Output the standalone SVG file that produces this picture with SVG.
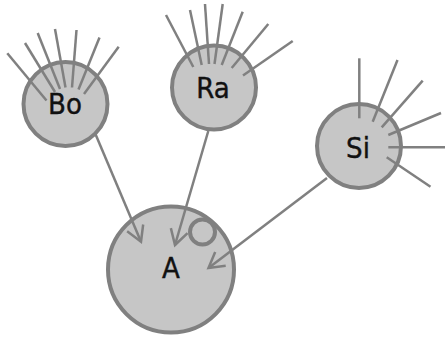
<svg xmlns="http://www.w3.org/2000/svg" width="445" height="338" viewBox="0 0 445 338">
<style>
.node circle{fill:#c6c6c6;stroke:#808080;stroke-width:4}
.hair{stroke:#808080;stroke-width:2.5;fill:none}
.label{font-family:"DejaVu Sans Condensed","DejaVu Sans",sans-serif;font-stretch:condensed;font-size:29px;fill:#111;stroke:#111;stroke-width:0.4;text-anchor:middle}
.edge{stroke:#808080;stroke-width:2.5;fill:none}
</style>
<defs>
<marker id="arrow" markerUnits="userSpaceOnUse" viewBox="-20 -12 24 24" markerWidth="24" markerHeight="24" refX="0" refY="0" orient="auto">
<path d="M-15,-8.7 L0,0 L-15,8.7" fill="none" stroke="#808080" stroke-width="2.5" stroke-linejoin="miter"/>
</marker>
</defs>
<rect width="445" height="338" fill="#ffffff"/>
<g id="node-Bo" class="node">
<circle cx="65.5" cy="104" r="42"/>
<g class="hair">
<line x1="7.3" y1="53.3" x2="46.5" y2="100.5"/>
<line x1="25" y1="43" x2="55" y2="92"/>
<line x1="37.7" y1="33" x2="60" y2="89"/>
<line x1="55" y1="29" x2="65.5" y2="87.5"/>
<line x1="76.5" y1="30" x2="72" y2="87.5"/>
<line x1="99.5" y1="37.5" x2="78.5" y2="89.5"/>
<line x1="118.7" y1="46.7" x2="84" y2="94"/>
</g>
<text class="label" x="65" y="114.3">Bo</text>
</g>
<g id="node-Ra" class="node">
<circle cx="214" cy="87.5" r="42"/>
<g class="hair">
<line x1="166" y1="15" x2="193.3" y2="67"/>
<line x1="190" y1="10" x2="201.7" y2="65"/>
<line x1="205" y1="4" x2="209" y2="64"/>
<line x1="222.7" y1="4" x2="214.5" y2="64"/>
<line x1="242.7" y1="11.7" x2="221.7" y2="65"/>
<line x1="268.3" y1="24" x2="231.7" y2="68"/>
<line x1="292.7" y1="41" x2="243" y2="75.5"/>
</g>
<text class="label" x="213" y="97.5">Ra</text>
</g>
<g id="node-Si" class="node">
<circle cx="359" cy="146" r="42"/>
<g class="hair">
<line x1="359.3" y1="58.3" x2="359.3" y2="118.3"/>
<line x1="397.5" y1="60" x2="372.7" y2="121.7"/>
<line x1="422.7" y1="80.7" x2="381.7" y2="127.3"/>
<line x1="441" y1="113" x2="388.3" y2="135"/>
<line x1="445" y1="147.3" x2="388.3" y2="147.3"/>
<line x1="430.5" y1="186.7" x2="386.7" y2="157.3"/>
</g>
<text class="label" x="358" y="157.5">Si</text>
</g>
<g id="node-A" class="node">
<circle cx="171" cy="269.5" r="63" stroke-width="4.5"/>
<circle cx="202.5" cy="232" r="12.5"/>
<text class="label" x="171" y="277.5">A</text>
</g>
<g id="connectors">
<line class="edge" x1="95" y1="133" x2="141" y2="241.7" marker-end="url(#arrow)"/>
<line class="edge" x1="208.3" y1="131" x2="175" y2="245" marker-end="url(#arrow)"/>
<line class="edge" x1="327" y1="178" x2="208.5" y2="268" marker-end="url(#arrow)"/>
</g>
</svg>
